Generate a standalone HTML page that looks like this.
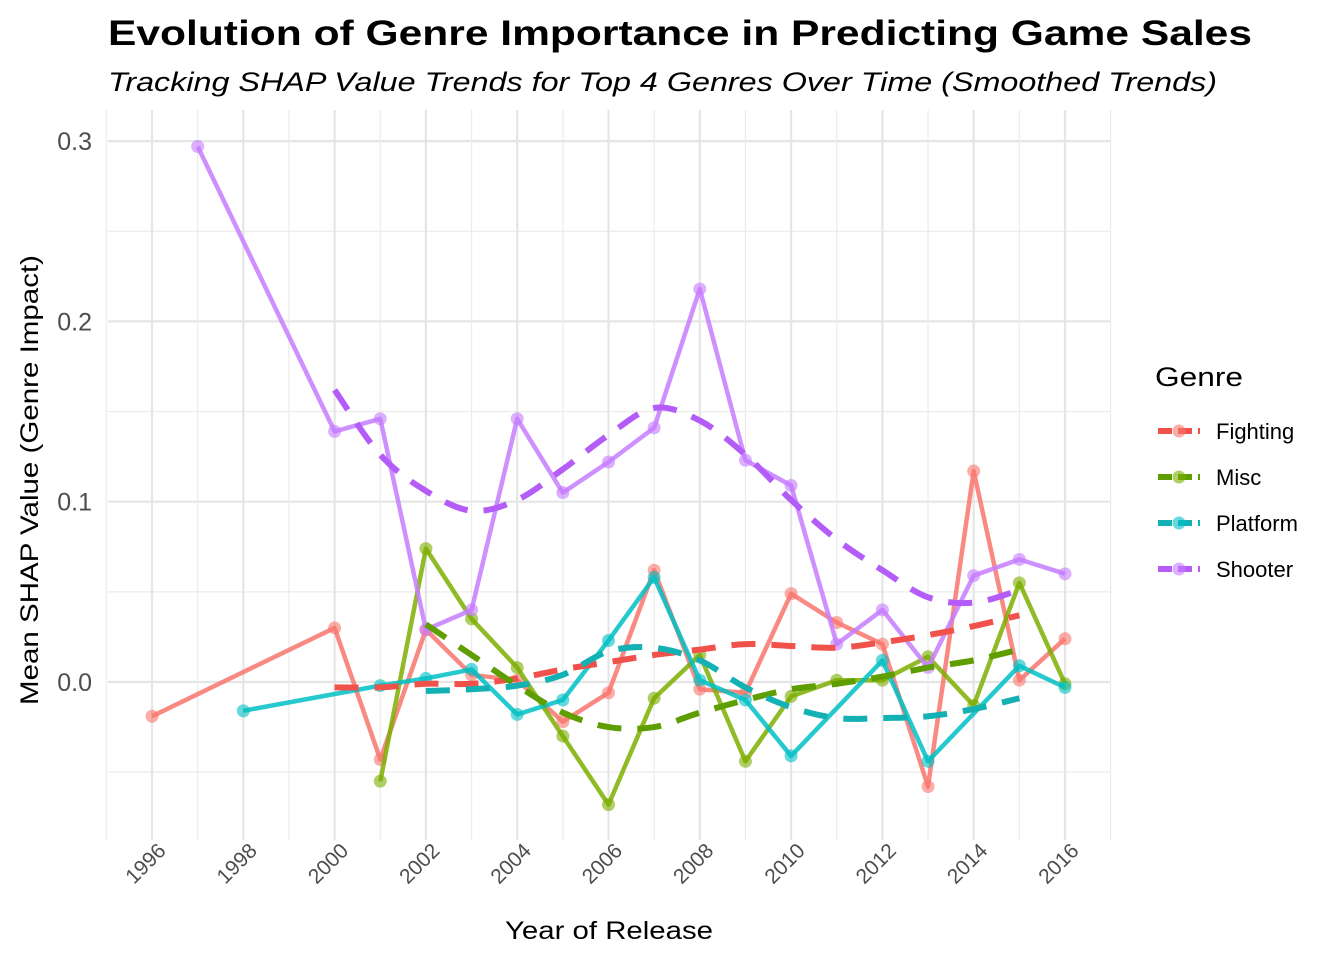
<!DOCTYPE html>
<html><head><meta charset="utf-8"><style>
html,body{margin:0;padding:0;background:#fff;}
svg{display:block;font-family:"Liberation Sans",Arial,sans-serif;}
</style></head><body>
<svg id="chart" width="1344" height="960" viewBox="0 0 1344 960" xmlns="http://www.w3.org/2000/svg">
<text x="108" y="45" font-size="35" font-weight="bold" fill="#000" textLength="1144" lengthAdjust="spacingAndGlyphs">Evolution of Genre Importance in Predicting Game Sales</text>
<text x="108" y="91" font-size="27" font-style="italic" fill="#000" textLength="1109" lengthAdjust="spacingAndGlyphs">Tracking SHAP Value Trends for Top 4 Genres Over Time (Smoothed Trends)</text>
<g id="grid"></g>
<g id="series"></g>
<g id="axes"></g>
<text x="609" y="939" font-size="25" text-anchor="middle" fill="#000" textLength="208" lengthAdjust="spacingAndGlyphs">Year of Release</text>
<text transform="translate(38,480) rotate(-90)" font-size="25" text-anchor="middle" fill="#000" textLength="450" lengthAdjust="spacingAndGlyphs">Mean SHAP Value (Genre Impact)</text>
<g id="legend"></g>
</svg>
<script>
const genres = ["Fighting","Misc","Platform","Shooter"];
const colors = ["#F8766D","#7CAE00","#00BFC4","#C77CFF"];
const dashColors = ["#F0524B","#5E9E00","#14B1B4","#B45CF8"];
const fightingYears = [1996,2000,2001,2002,2003,2004,2005,2006,2007,2008,2009,2010,2011,2012,2013,2014,2015,2016];
const fightingValues = [-0.019,0.030,-0.043,0.029,0.004,0.001,-0.022,-0.006,0.062,-0.004,-0.006,0.049,0.033,0.021,-0.058,0.117,0.001,0.024];
const miscYears = [2001,2002,2003,2004,2005,2006,2007,2008,2009,2010,2011,2012,2013,2014,2015,2016];
const miscValues = [-0.055,0.074,0.035,0.008,-0.030,-0.068,-0.009,0.015,-0.044,-0.008,0.001,0.001,0.014,-0.013,0.055,-0.001];
const platformYears = [1998,2001,2002,2003,2004,2005,2006,2007,2008,2009,2010,2012,2013,2015,2016];
const platformValues = [-0.016,-0.002,0.002,0.007,-0.018,-0.010,0.023,0.058,0.001,-0.010,-0.041,0.012,-0.044,0.009,-0.003];
const shooterYears = [1997,2000,2001,2002,2003,2004,2005,2006,2007,2008,2009,2010,2011,2012,2013,2014,2015,2016];
const shooterValues = [0.297,0.139,0.146,0.029,0.040,0.146,0.105,0.122,0.141,0.218,0.123,0.109,0.021,0.040,0.008,0.059,0.068,0.060];
const smoothFightingYears = [2000,2001,2002,2003,2004,2005,2006,2007,2008,2009,2010,2011,2012,2013,2014,2015];
const smoothFighting = [-0.003,-0.003,-0.001,-0.001,0.002,0.007,0.011,0.015,0.018,0.021,0.020,0.019,0.022,0.026,0.031,0.037];
const smoothMiscYears = [2002,2003,2004,2005,2006,2007,2008,2009,2010,2011,2012,2013,2014,2015];
const smoothMisc = [0.032,0.015,-0.002,-0.017,-0.025,-0.025,-0.017,-0.010,-0.004,-0.001,0.003,0.008,0.012,0.018];
const smoothPlatformYears = [2002,2003,2004,2005,2006,2007,2008,2009,2010,2011,2012,2013,2014,2015];
const smoothPlatform = [-0.005,-0.004,-0.002,0.004,0.017,0.019,0.012,-0.003,-0.014,-0.020,-0.020,-0.019,-0.015,-0.009];
const smoothShooterYears = [2000,2001,2002,2003,2004,2005,2006,2007,2008,2009,2010,2011,2012,2013,2014,2015];
const smoothShooter = [0.162,0.126,0.106,0.095,0.101,0.118,0.137,0.152,0.145,0.126,0.101,0.079,0.062,0.047,0.044,0.051];
const yTicks = [0.0,0.1,0.2,0.3];
const yTickLabels = ["0.0","0.1","0.2","0.3"];
const xTicks = [1996,1998,2000,2002,2004,2006,2008,2010,2012,2014,2016];

const NS="http://www.w3.org/2000/svg";
const L=108,R=1110,T=110,B=840;
const xs = y => 152 + (y-1996)*45.65;
const ys = v => 682 - v*1803;
function mk(tag,attrs,parent){const e=document.createElementNS(NS,tag);for(const k in attrs)e.setAttribute(k,attrs[k]);parent.appendChild(e);return e;}
const grid=document.getElementById('grid'),ser=document.getElementById('series'),axes=document.getElementById('axes'),leg=document.getElementById('legend');
for(let v=-0.05;v<=0.31;v+=0.1){const l=mk('line',{x1:L,x2:R,y1:ys(v),y2:ys(v),stroke:'#ebebeb','stroke-width':1.2},grid);

}
yTicks.forEach((v,i)=>{const l=mk('line',{x1:L,x2:R,y1:ys(v),y2:ys(v),stroke:'#e5e5e5','stroke-width':2.2},grid);


const t=mk('text',{x:92,y:ys(v)+9,'font-size':25,'text-anchor':'end',fill:'#4d4d4d'},axes);t.textContent=yTickLabels[i];

});
for(let y=1995;y<=2017;y++){const major=xTicks.includes(y);const l=mk('line',{x1:xs(y),x2:xs(y),y1:T,y2:B,stroke:major?'#e5e5e5':'#ebebeb','stroke-width':major?2.2:1.2},grid);

}
xTicks.forEach(y=>{const t=mk('text',{transform:`translate(${xs(y)+15},${852}) rotate(-45)`,'font-size':21,'text-anchor':'end',fill:'#4d4d4d'},axes);t.textContent=y;

});
const raw=[[fightingYears,fightingValues],[miscYears,miscValues],[platformYears,platformValues],[shooterYears,shooterValues]];
const sm=[[smoothFightingYears,smoothFighting],[smoothMiscYears,smoothMisc],[smoothPlatformYears,smoothPlatform],[smoothShooterYears,smoothShooter]];
function pathFrom(xa,va){return xa.map((x,i)=>(i?'L':'M')+xs(x).toFixed(1)+','+ys(va[i]).toFixed(1)).join('');}
function smoothPath(xa,va){const p=xa.map((x,i)=>[xs(x),ys(va[i])]);let d='M'+p[0][0]+','+p[0][1];
for(let i=0;i<p.length-1;i++){const p0=p[i-1]||p[i],p1=p[i],p2=p[i+1],p3=p[i+2]||p2;
d+=`C${p1[0]+(p2[0]-p0[0])/6},${p1[1]+(p2[1]-p0[1])/6} ${p2[0]-(p3[0]-p1[0])/6},${p2[1]-(p3[1]-p1[1])/6} ${p2[0]},${p2[1]}`;}return d;}
raw.forEach(([xa,va],g)=>{const p=mk('path',{d:pathFrom(xa,va),fill:'none',stroke:colors[g],'stroke-width':4.5,'stroke-opacity':0.85,'stroke-linejoin':'round'},ser);


xa.forEach((x,i)=>{const c=mk('circle',{cx:xs(x),cy:ys(va[i]),r:6.5,fill:colors[g],'fill-opacity':0.6},ser);

});});
sm.forEach(([xa,va],g)=>{const p=mk('path',{d:smoothPath(xa,va),fill:'none',stroke:dashColors[g],'stroke-width':6,'stroke-dasharray':'24,16'},ser);

});
const lt=mk('text',{x:1155,y:386,'font-size':27,fill:'#000',textLength:88,lengthAdjust:'spacingAndGlyphs'},leg);lt.textContent='Genre';


const legendWidths=[93,54,93,93];
genres.forEach((g,i)=>{const y=431+i*46;
const grp=mk('g',{},leg);


mk('line',{x1:1158,x2:1200,y1:y,y2:y,stroke:dashColors[i],'stroke-width':6,'stroke-dasharray':'14,6'},grp);
mk('circle',{cx:1179,cy:y,r:6.5,fill:colors[i],'fill-opacity':0.6},grp);
const t=mk('text',{x:1216,y:y+8,'font-size':22,fill:'#000'},grp);t.textContent=g;});
</script>
</body></html>
